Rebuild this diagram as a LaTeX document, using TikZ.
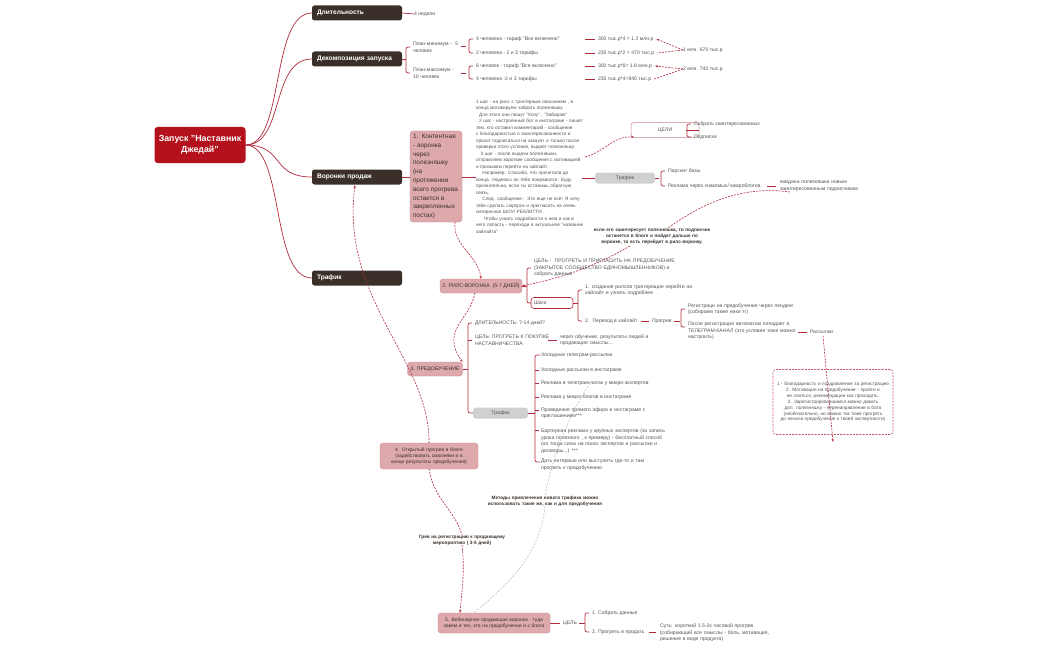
\documentclass[tikz,border=0pt]{standalone}
\usepackage{fontspec}
\setmainfont{Liberation Sans}
\usetikzlibrary{arrows.meta,decorations.pathreplacing}
\definecolor{rootc}{HTML}{B3121D}
\definecolor{brn}{HTML}{3A3029}
\definecolor{lnk}{HTML}{B22B3C}
\definecolor{pnk}{HTML}{DDA9AC}
\definecolor{pnkd}{HTML}{C9878C}
\definecolor{gry}{HTML}{D0D0D0}
\definecolor{txt}{HTML}{555555}
\begin{document}
\begin{tikzpicture}[x=1pt,y=-1pt,
  every node/.style={inner sep=0pt,outer sep=0pt},
  t/.style={anchor=west,font=\fontsize{5.1}{6.6}\selectfont,text=txt,align=left},
  tb/.style={t,font=\fontsize{4.7}{6}\selectfont\bfseries,text=brn},
  br/.style={rounded corners=2.5pt,fill=brn,text=white,font=\fontsize{6.6}{7}\selectfont\bfseries,anchor=west,minimum width=90pt,minimum height=15pt,text width=80pt,inner xsep=5pt},
  pk/.style={rounded corners=3pt,fill=pnk,draw=pnkd,line width=0.3pt,font=\fontsize{5.2}{6.4}\selectfont,text=brn,align=center},
  gy/.style={rounded corners=3pt,fill=gry,font=\fontsize{5.2}{6}\selectfont,text=txt,anchor=west,inner xsep=3pt,minimum height=11pt},
  ln/.style={draw=lnk,line width=0.7pt},
  brace/.style={draw=lnk,line width=0.7pt,rounded corners=2pt},
  dsh/.style={draw=lnk,line width=0.6pt,dash pattern=on 2pt off 1.2pt,-{Stealth[length=3pt]}},
  gd/.style={draw=gry!80!black,line width=0.4pt,dash pattern=on 2pt off 1.5pt}]
\useasboundingbox (0,0) rectangle (1049,650);
\fill[white] (0,0) rectangle (1049,650);

% root
\node[rounded corners=3pt,fill=rootc,text=white,font=\fontsize{8.8}{10.5}\selectfont\bfseries,align=center,minimum width=91pt,minimum height=36pt] (root) at (200,145) {Запуск "Наставник\\Джедай"};
\node[br] (b1) at (312,13) {Длительность};
\node[br] (b2) at (312,59) {Декомпозиция запуска};
\node[br] (b3) at (312,177) {Воронки продаж};
\node[br] (b4) at (312,278) {Трафик};
\foreach \b in {b1,b2,b3,b4}{\draw[ln] (root.east) .. controls (285,145) and (270,0|-\b.west) .. (\b.west);}

% Длительность
\node[t] (d1) at (414,14) {4 недели};
\draw[ln] (b1.east) -- (d1.west);

% Декомпозиция
\node[t,text width=48pt] (pm) at (413,47) {План-минимум - \ 5 человек};
\node[t,text width=48pt] (px) at (413,73) {План-максимум - 10 человек};
\draw[brace] (b2.east) -- (406,59);
\draw[brace] (410,47)--(406,47)--(406,73)--(410,73);
\node[t] (a1) at (476,39) {4 человека - тариф "Все включено"};
\node[t] (a2) at (476,53) {2 человека - 2 и 3 тарифы};
\node[t] (a3) at (476,66) {6 человек - тариф "Все включено"};
\node[t] (a4) at (476,79) {4 человека -2 и 3 тарифы};
\draw[brace] (461,46)--(466,46); \draw[brace] (473,39)--(469,39)--(469,53)--(473,53);
\draw[brace] (461,73)--(466,73); \draw[brace] (473,66)--(469,66)--(469,79)--(473,79);
\node[t] (c1) at (598,39) {300 тыс.р*4 = 1.2 млн.р};
\node[t] (c2) at (598,53) {235 тыс.р*2 = 470 тыс.р};
\node[t] (c3) at (598,66) {300 тыс.р*6= 1.8 млн.р};
\node[t] (c4) at (598,79) {235 тыс.р*4=940 тыс.р};
\foreach \c in {c1,c2,c3,c4}{\draw[ln] ([xshift=-13pt]\c.west) -- ([xshift=-3pt]\c.west);}
\node[t] (s1) at (683,50) {1 млн. 670 тыс.р};
\node[t] (s2) at (683,69) {2 млн. 740 тыс.р};
\draw[dsh] (s1.west) -- ([xshift=3pt]c1.east);
\draw[dsh,-] (s1.west) -- ([xshift=3pt]c2.east);
\draw[dsh] (s2.west) -- ([xshift=3pt]c3.east);
\draw[dsh,-] (s2.west) -- ([xshift=3pt]c4.east);

% Воронки продаж
\node[pk,anchor=north west,text width=46pt,align=left,font=\fontsize{6.4}{8.8}\selectfont,inner sep=3pt,minimum height=91pt] (k1) at (410,131) {1. Контентная - воронка через полезняшку (на протяжении всего прогрева остается в закрепленных постах)};
\draw[ln] (b3.east) -- (k1.west|-b3.east);
\node[t,anchor=north west,text width=108pt,font=\fontsize{4.7}{6.5}\selectfont] (ktx) at (476,100) {1 шаг - на рилс с триггерным описанием , в конца мотивируем забрать полезняшку.\\ \ \ Для этого они пишут "Хочу" , "Забираю"\\ \ \ 2 шаг - настроенный бот в инстаграме - пишет тем, кто оставил комментарий - сообщение с благодарностью о заинтересованности и просит подписаться на аккаунт и только после проверки этого условия, выдает полезняшку.\\ \ \ \ 3 шаг - после выдачи полезняшки, отправляем короткие сообщения с мотивацией и призывом перейти на хайлайт.\\ \ \ \ \ Например: Спасибо, что прочитала до конца. Надеюсь он тебе понравился. Буду признательна, если ты оставишь обратную связь.\\ \ \ \ \ След. сообщение : Это еще не всё! Я хочу тебе сделать сюрприз и пригласить на очень интересное ШОУ/ РЕАЛИТТИ .\\ \ \ \ \ \ Чтобы узнать подробности о нем и как в него попасть - переходи в актуальное "название хайлайта"};
\draw[ln] (k1.east|-b3.east) -- (476,177);
\node[draw=pnkd,line width=0.5pt,rounded corners=3pt,minimum width=68pt,minimum height=15pt,font=\fontsize{5.2}{6}\selectfont,text=txt] (cel) at (665,130) {ЦЕЛИ};
\node[t] (g1) at (694,124) {Собрать заинтересованных};
\node[t] (g2) at (694,137) {Подписки};
\draw[brace] (cel.east) -- (686,130); \draw[brace] (691,124)--(687,124)--(687,137)--(691,137);
\draw[dsh] (585,157) .. controls (605,152) and (612,136) .. (634,137);
\node[gy,minimum width=60pt] (tr1) at (595,178) {Трафик};
\draw[ln] (582,178) -- (tr1.west);
\node[t] (p1) at (668,171) {Парсинг базы};
\node[t] (p2) at (668,186) {Реклама через знакомых/ микроблогов};
\draw[brace] (tr1.east) -- (659,178); \draw[brace] (665,171)--(661,171)--(661,186)--(665,186);
\node[t,text width=85pt] (vv) at (780,186) {вовдана полезняшки новым заинтересованным подписчикам};
\draw[ln] (767,186) -- (776,186);
\node[tb,anchor=center,align=center,text width=120pt] (lab1) at (652,237) {если его заинтересует полезняшка, то подписчик останется в блоге и пойдет дальше по воронке, то есть перейдет в рилс-воронку.};

% РИЛС
\node[pk,minimum width=82pt,minimum height=14pt] (k2) at (481,286) {2. РИЛС-ВОРОНКА \ (5-7 ДНЕЙ)};
\draw[dsh,-] (790,192) .. controls (740,185) and (700,205) .. (668,228);
\draw[dsh] (630,246) .. controls (580,275) and (540,282) .. (k2.east);
\draw[dsh] (455,222) .. controls (452,245) and (478,255) .. (k2.north);
\node[t,text width=150pt] (cl2) at (534,268) {ЦЕЛЬ - \ ПРОГРЕТЬ И ПРИГЛАСИТЬ НА ПРЕДОБУЧЕНИЕ (ЗАКРЫТОЕ СООБЩЕСТВО ЕДИНОМЫШЛЕННИКОВ) и собрать данные};
\node[draw=lnk,line width=0.6pt,rounded corners=3pt,minimum width=42pt,minimum height=11pt,font=\fontsize{5.2}{6}\selectfont,text=txt,anchor=west,align=left,text width=36pt,inner xsep=3pt] (sh) at (531,303) {Шаги};
\draw[brace] (k2.east) -- (527,286); \draw[brace] (531,268)--(527,268)--(527,303)--(531,303);
\node[t,text width=110pt] (st1) at (585,290) {1. создание рилсов триггерящие перейти на хайлайт и узнать подробнее};
\node[t] (st2) at (585,321) {2. \ Переход в хайлайт};
\draw[brace] (sh.east) -- (578,303); \draw[brace] (582,290)--(578,290)--(578,321)--(582,321);
\node[t] (pg) at (652,321) {Прогрев};
\draw[ln] ([xshift=3pt]st2.east) -- ([xshift=-3pt]pg.west);
\node[t,text width=120pt] (r1) at (688,309) {Регистраци на предобучение через лендинг (собираем также ники тг)};
\node[t,text width=115pt] (r2) at (688,331) {После регистрации автоматом попадает в ТЕЛЕГРАМ-КАНАЛ (это условие тоже можно настроить)};
\draw[brace] ([xshift=2pt]pg.east) -- (680,321); \draw[brace] (685,309)--(681,309)--(681,327)--(685,327);
\node[t] (ras) at (810,332) {Рассылки};
\draw[ln] (798,332) -- (807,332);
\node[draw=lnk!80,line width=0.6pt,dash pattern=on 2pt off 1.2pt,rounded corners=3pt,minimum width=120pt,minimum height=65pt,text width=114pt,align=center,font=\fontsize{4.7}{5.9}\selectfont,text=txt] (bx) at (833,402) {1 - благодарность и поздравление за регистрацию\\ 2. Мотивация на предобучение - пройти и не слиться, рекомендации как проходить.\\ 3. Зарегистрировавшимся можно давать доп. полезняшку - перенаправление в бота (необязательно, но можно так тоже прогреть до начала предобучения к твоей экспертности)};
\draw[dsh] (823,336) -- (833,442);

% ПРЕДОБУЧЕНИЕ
\node[pk,minimum width=55pt,minimum height=14pt] (k3) at (435,369) {3. ПРЕДОБУЧЕНИЕ};
\draw[dsh] (475,293) .. controls (470,320) and (440,330) .. (k3.north east);
\node[t] (dl) at (475,323) {ДЛИТЕЛЬНОСТЬ: 7-14 дней?};
\node[t,text width=80pt] (cp) at (475,340) {ЦЕЛЬ: ПРОГРЕТЬ К ПОКУПКЕ НАСТАВНИЧЕСТВА};
\node[t,text width=100pt] (cp2) at (560,340) {через обучение, результаты людей и продающие смыслы...};
\draw[ln] (548,340) -- (557,340);
\node[gy,minimum width=55pt] (tr3) at (473,413) {Трафик};
\draw[brace] (k3.east) -- (468,369); \draw[brace] (472,323)--(468,323)--(468,413)--(473,413);
\draw[brace] (468,340)--(472,340);
\node[t] (m1) at (541,355) {Холодные телеграм-рассылки};
\node[t] (m2) at (541,370) {Холодные рассылки в инстаграме};
\node[t] (m3) at (541,383) {Реклама в телеграм-чатах у микро-экспертов};
\node[t] (m4) at (541,397) {Реклама у микро-блогов в инстаграме};
\node[t,text width=125pt] (m5) at (541,413) {Проведение прямого эфира в инстаграме с приглашением***};
\node[t,text width=125pt] (m6) at (541,441) {Бартерная реклама у крупных экспертов (за запись урока полезного , к примеру) - бесплатный способ (но тогда силы на поиск экспертов и рассылки и договоры...) ***};
\node[t,text width=125pt] (m7) at (541,465) {Дать интервью или выступить где-то и там прогреть к предобучению};
\draw[brace] (tr3.east) -- (535,413); \draw[brace] (540,355)--(535,355)--(535,462)--(540,462);
\foreach \y in {370,383,397,410,430}{\draw[brace] (535,\y)--(539,\y);}

% 4
\node[pk,minimum width=98pt,minimum height=26pt,text width=94pt,font=\fontsize{4.9}{6.2}\selectfont] (k4) at (429,456) {4. Открытый прогрев в блоге (задействовать сквозняки и в конце результаты предобучения)};
\draw[dsh] (k4.north) .. controls (430,360) and (340,300) .. (355,185);
\node[tb,anchor=center,align=center,text width=115pt] (lab2) at (545,501) {Методы привлечения нового трафика можно использовать такие же, как и для предобучения};
\node[tb,anchor=center,align=center,text width=105pt] (lab3) at (462,540) {Грев на регистрацию к продающему мероприятию ( 3-5 дней)};

% 5
\node[pk,minimum width=112pt,minimum height=20pt,text width=108pt,font=\fontsize{4.9}{6.2}\selectfont] (k5) at (494,623) {5. Вебинарная продающая воронка - туда зовем и тех, кто на предобучении и с блога};
\draw[dsh,-] (k4.south) .. controls (434,500) and (455,510) .. (lab3.north);
\draw[dsh] (lab3.south) .. controls (465,570) and (462,590) .. ([xshift=-34pt]k5.north);
\draw[gd] (590,383) .. controls (560,430) and (550,470) .. (lab2.north);
\draw[gd] (lab2.south) .. controls (540,560) and (500,590) .. ([xshift=-20pt]k5.north);
\node[t] (c5) at (563,623) {ЦЕЛЬ};
\draw[ln] (k5.east) -- (560,623);
\node[t] (f1) at (592,613) {1. Собрать данные};
\node[t] (f2) at (592,632) {2. Прогреть и продать};
\draw[brace] ([xshift=2pt]c5.east) -- (585,623); \draw[brace] (589,613)--(585,613)--(585,632)--(589,632);
\node[t,text width=110pt] (sut) at (660,633) {Суть: короткий 1.5-2х часовой прогрев (собирающий все смыслы - боль, мотивация, решение в виде продукта)};
\draw[ln] ([xshift=4pt]f2.east) -- (656,632);
\end{tikzpicture}
\end{document}
